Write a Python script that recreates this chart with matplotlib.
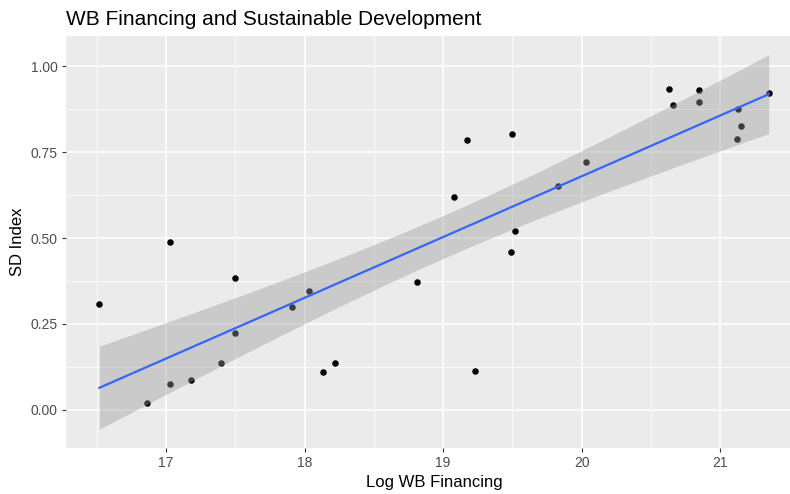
import matplotlib
matplotlib.use('Agg')
from matplotlib import pyplot as plt
import numpy as np

plt.rcParams['font.family'] = ['Liberation Sans', 'DejaVu Sans']

# log WB financing vs SD index, one point per country
log_wb = [16.52, 17.03, 17.50, 16.86, 17.03, 17.18, 17.40, 17.50, 17.91, 18.03,
          18.13, 18.22, 19.17, 19.50, 19.08, 19.52, 19.49, 18.81, 19.23, 19.83,
          20.03, 20.63, 20.85, 20.66, 20.85, 21.13, 21.15, 21.12, 21.35]
sd_index = [0.308, 0.487, 0.383, 0.020, 0.075, 0.087, 0.135, 0.223, 0.298, 0.346,
            0.109, 0.135, 0.786, 0.803, 0.619, 0.521, 0.460, 0.373, 0.112, 0.651,
            0.721, 0.934, 0.931, 0.886, 0.897, 0.876, 0.825, 0.788, 0.921]

x = np.array(log_wb)
y = np.array(sd_index)

# linear fit with 95% confidence band (like geom_smooth(method="lm"))
n = len(x)
b1, b0 = np.polyfit(x, y, 1)
resid = y - (b0 + b1 * x)
s = np.sqrt(np.sum(resid ** 2) / (n - 2))
xs = np.linspace(x.min(), x.max(), 80)
fit = b0 + b1 * xs
se = s * np.sqrt(1 / n + (xs - x.mean()) ** 2 / np.sum((x - x.mean()) ** 2))
tcrit = 2.0518  # t(0.975, df=27)
lo = fit - tcrit * se
hi = fit + tcrit * se

fig = plt.figure(figsize=(7.9, 4.94), dpi=100)
# panel runs a little past the right edge of the canvas
ax = fig.add_axes([0.0835, 0.093, 0.932, 0.834])
ax.set_facecolor('#EBEBEB')

ax.scatter(x, y, s=22, color='black', zorder=3, linewidths=0)
ax.fill_between(xs, lo, hi, color='#999999', alpha=0.4, linewidth=0, zorder=4)
ax.plot(xs, fit, color='#3366FF', lw=1.6, zorder=5)

xr = x.max() - x.min()
ax.set_xlim(x.min() - 0.05 * xr, x.max() + 0.05 * xr)
ymin, ymax = min(lo.min(), y.min()), max(hi.max(), y.max())
yr = ymax - ymin
ax.set_ylim(ymin - 0.05 * yr, ymax + 0.05 * yr)

ax.set_xticks([17, 18, 19, 20, 21])
ax.set_xticks([16.5, 17.5, 18.5, 19.5, 20.5, 21.5], minor=True)
ax.set_yticks([0, 0.25, 0.5, 0.75, 1.0])
ax.set_yticklabels(['0.00', '0.25', '0.50', '0.75', '1.00'])
ax.set_yticks([0.125, 0.375, 0.625, 0.875], minor=True)

ax.grid(which='major', color='white', lw=1.1, zorder=0)
ax.grid(which='minor', color='white', lw=0.55, zorder=0)
ax.set_axisbelow(True)
for sp in ax.spines.values():
    sp.set_visible(False)

ax.tick_params(which='major', length=3, width=0.8, color='#333333',
               labelcolor='#4D4D4D', labelsize=10, pad=3)
ax.tick_params(which='minor', length=0)

ax.set_xlabel('Log WB Financing', fontsize=12, color='black', labelpad=3)
ax.set_ylabel('SD Index', fontsize=12, color='black', labelpad=4)
ax.set_title('WB Financing and Sustainable Development', fontsize=15,
             loc='left', pad=8)

fig.savefig('out.png', dpi=100)
